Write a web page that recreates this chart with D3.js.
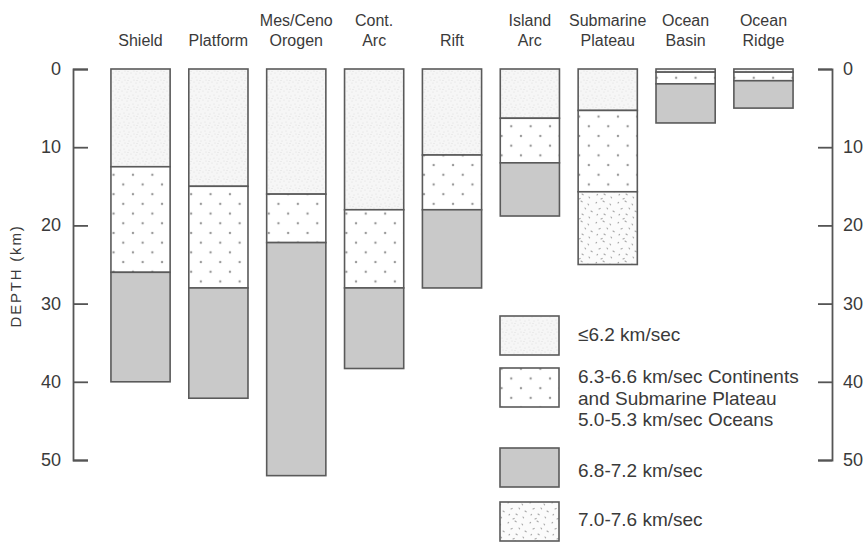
<!DOCTYPE html>
<html lang="en">
<head>
<meta charset="utf-8">
<title>Crustal structure by province</title>
<script src="https://d3js.org/d3.v7.min.js"></script>
<style>
  body { margin: 0; background: #fff; }
  text { font-family: "Liberation Sans", Arial, sans-serif; fill: #3a3a3a; }
</style>
</head>
<body>
<script>
// provinces, header labels (two lines each)
const provinces = ["Shield", "Platform", "Mes/Ceno Orogen", "Cont. Arc", "Rift",
                   "Island Arc", "Submarine Plateau", "Ocean Basin", "Ocean Ridge"];
const headTop = ["", "", "Mes/Ceno", "Cont.", "", "Island", "Submarine", "Ocean", "Ocean"];
const headBottom = ["Shield", "Platform", "Orogen", "Arc", "Rift", "Arc", "Plateau", "Basin", "Ridge"];

// layer thickness (km) per velocity class, top to bottom
const v62 = [12.5, 15, 16, 18, 11, 6.3, 5.3, 0.4, 0.4];     // <=6.2 km/sec
const v63 = [13.5, 13, 6.2, 10, 7, 5.7, 10.4, 1.5, 1.1];    // 6.3-6.6 / 5.0-5.3
const v68 = [14, 14.1, 29.8, 10.3, 10, 6.8, 0, 5, 3.5];     // 6.8-7.2
const v70 = [0, 0, 0, 0, 0, 0, 9.3, 0, 0];                  // 7.0-7.6

const depthTicks = [0, 10, 20, 30, 40, 50];
const legendKeys = ["v62", "v63", "v68", "v70"];
const legendLines = [
  ["\u22646.2 km/sec"],
  ["6.3-6.6 km/sec Continents", "and Submarine Plateau", "5.0-5.3 km/sec Oceans"],
  ["6.8-7.2 km/sec"],
  ["7.0-7.6 km/sec"]
];

const W = 867, H = 543;
const svg = d3.select("body").append("svg").attr("width", W).attr("height", H);

// patterns
const defs = svg.append("defs");
// fine speckle
const p1 = defs.append("pattern").attr("id", "p62").attr("patternUnits", "userSpaceOnUse")
  .attr("width", 9).attr("height", 9);
p1.append("rect").attr("width", 9).attr("height", 9).attr("fill", "#f6f6f6");
[[1, 2], [5, 1], [3, 6], [7, 5], [8, 8], [2, 8.5]].forEach(d =>
  p1.append("circle").attr("cx", d[0]).attr("cy", d[1]).attr("r", 0.45).attr("fill", "#c8c8c8"));
// regular dots
const p2 = defs.append("pattern").attr("id", "p63").attr("patternUnits", "userSpaceOnUse")
  .attr("width", 19.4).attr("height", 19.4).attr("x", 2).attr("y", 5);
p2.append("rect").attr("width", 19.4).attr("height", 19.4).attr("fill", "#fff");
p2.append("circle").attr("cx", 4.85).attr("cy", 4.85).attr("r", 1.2).attr("fill", "#9a9a9a");
p2.append("circle").attr("cx", 14.55).attr("cy", 14.55).attr("r", 1.2).attr("fill", "#9a9a9a");
// coarse stipple
const p4 = defs.append("pattern").attr("id", "p70").attr("patternUnits", "userSpaceOnUse")
  .attr("width", 22).attr("height", 20);
p4.append("rect").attr("width", 22).attr("height", 20).attr("fill", "#fbfbfb");
[[2, 3], [9, 1], [16, 4], [5, 9], [13, 8], [19, 11], [3, 15], [10, 14], [17, 17], [7, 19]].forEach((d, i) =>
  p4.append("line").attr("x1", d[0]).attr("y1", d[1]).attr("x2", d[0] + (i % 2 ? 1.2 : 0.6)).attr("y2", d[1] + (i % 3 ? 0.8 : -0.6))
    .attr("stroke", "#a8a8a8").attr("stroke-width", 1.1).attr("stroke-linecap", "round"));

const fills = { v62: "url(#p62)", v63: "url(#p63)", v68: "#c9c9c9", v70: "url(#p70)" };

// scales
const x = d3.scaleBand().domain(provinces).range([101.6, 802.4]).paddingInner(0.24).paddingOuter(0.12);
const y = d3.scaleLinear().domain([0, 50]).range([69, 460]);

// stacked layers
const table = provinces.map((p, i) => ({ name: p, v62: v62[i], v63: v63[i], v68: v68[i], v70: v70[i] }));
const series = d3.stack().keys(legendKeys)(table);

const layers = svg.append("g");
series.forEach(s => {
  layers.selectAll(null).data(s.filter(d => d[1] > d[0])).enter().append("rect")
    .attr("x", d => x(d.data.name))
    .attr("y", d => y(d[0]))
    .attr("width", x.bandwidth())
    .attr("height", d => y(d[1]) - y(d[0]))
    .attr("fill", fills[s.key])
    .attr("stroke", "#5a5a5a").attr("stroke-width", 1.6);
});

// headers
const heads = svg.append("g").attr("font-size", 16).attr("text-anchor", "middle");
heads.selectAll(null).data(provinces).enter().append("text")
  .attr("x", d => x(d) + x.bandwidth() / 2).attr("y", 26)
  .text((d, i) => headTop[i]);
heads.selectAll(null).data(provinces).enter().append("text")
  .attr("x", d => x(d) + x.bandwidth() / 2).attr("y", 45.5)
  .text((d, i) => headBottom[i]);

// axes
const left = svg.append("g").attr("transform", "translate(73,0)")
  .call(d3.axisRight(y).tickValues(depthTicks).tickSize(15).tickFormat(d3.format("d")));
left.selectAll("text").attr("x", -12).attr("text-anchor", "end");
const right = svg.append("g").attr("transform", "translate(832,0)")
  .call(d3.axisLeft(y).tickValues(depthTicks).tickSize(14).tickFormat(d3.format("d")));
right.selectAll("text").attr("x", 11).attr("text-anchor", "start");
[left, right].forEach(a => {
  a.selectAll("path,line").attr("stroke", "#555").attr("stroke-width", 1.8);
  a.selectAll("text").attr("font-size", 18).attr("fill", "#3a3a3a").attr("dy", "0.3em")
    .attr("font-family", "'Liberation Sans', Arial, sans-serif");
});

svg.append("text").attr("transform", "translate(21,276) rotate(-90)")
  .attr("text-anchor", "middle").attr("font-size", 15).attr("letter-spacing", 1.8)
  .text("DEPTH  (km)");

// legend
const legTop = [316, 368, 448, 502];
const legBase = [341, 383, 477, 526];
const leg = svg.append("g");
legendKeys.forEach((k, i) => {
  leg.append("rect").attr("x", 500).attr("y", legTop[i]).attr("width", 59).attr("height", 39)
    .attr("fill", fills[k]).attr("stroke", "#5a5a5a").attr("stroke-width", 1.6);
  legendLines[i].forEach((t, j) => {
    leg.append("text").attr("x", 578).attr("y", legBase[i] + j * 21.7)
      .attr("font-size", 19).text(t);
  });
});
</script>
</body>
</html>
